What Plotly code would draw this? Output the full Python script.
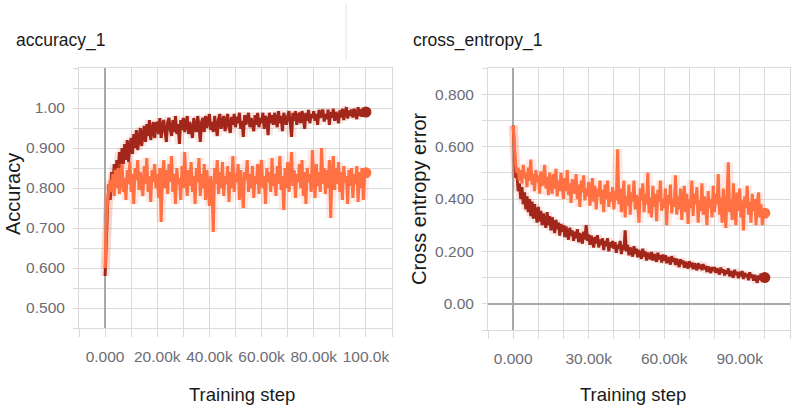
import plotly.graph_objects as go

# ---------------- data ----------------
steps = list(range(0, 100001, 500))

acc_train = [
    0.580, 0.700, 0.760, 0.810, 0.770, 0.840, 0.800, 0.860, 0.820, 0.870,
    0.840, 0.890, 0.850, 0.900, 0.860, 0.910, 0.870, 0.920, 0.865, 0.905,
    0.925, 0.885, 0.935, 0.900, 0.945, 0.895, 0.930, 0.950, 0.905, 0.940,
    0.955, 0.915, 0.960, 0.930, 0.970, 0.920, 0.950, 0.965, 0.925, 0.960,
    0.965, 0.935, 0.975, 0.925, 0.955, 0.970, 0.940, 0.915, 0.965, 0.975,
    0.945, 0.930, 0.970, 0.940, 0.980, 0.935, 0.960, 0.910, 0.970, 0.945,
    0.975, 0.940, 0.960, 0.980, 0.935, 0.965, 0.945, 0.925, 0.975, 0.950,
    0.940, 0.980, 0.955, 0.915, 0.965, 0.975, 0.940, 0.980, 0.950, 0.965,
    0.985, 0.945, 0.965, 0.940, 0.980, 0.955, 0.930, 0.972, 0.985, 0.948,
    0.962, 0.980, 0.942, 0.970, 0.985, 0.952, 0.938, 0.978, 0.958, 0.985,
    0.952, 0.978, 0.962, 0.988, 0.948, 0.968, 0.928, 0.982, 0.958, 0.975,
    0.988, 0.952, 0.975, 0.962, 0.942, 0.982, 0.958, 0.988, 0.952, 0.975,
    0.962, 0.988, 0.948, 0.980, 0.970, 0.932, 0.988, 0.962, 0.982, 0.958,
    0.988, 0.970, 0.952, 0.992, 0.962, 0.980, 0.942, 0.988, 0.970, 0.958,
    0.980, 0.992, 0.962, 0.928, 0.988, 0.968, 0.992, 0.958, 0.980, 0.988,
    0.962, 0.992, 0.978, 0.948, 0.988, 0.968, 0.995, 0.962, 0.985, 0.975,
    0.992, 0.968, 0.985, 0.958, 0.995, 0.975, 0.988, 0.996, 0.966, 0.985,
    0.972, 0.996, 0.958, 0.990, 0.976, 0.998, 0.968, 0.990, 0.980, 0.962,
    0.994, 0.976, 0.998, 0.970, 0.990, 1.002, 0.974, 0.994, 0.980, 0.996,
    0.976, 0.998, 0.986, 0.972, 1.002, 0.980, 0.996, 0.978, 1.000, 0.984,
    0.990]

acc_val = [
    0.600, 0.720, 0.770, 0.800, 0.820, 0.790, 0.835, 0.780, 0.845, 0.800,
    0.850, 0.785, 0.830, 0.860, 0.790, 0.825, 0.770, 0.845, 0.810, 0.865,
    0.790, 0.835, 0.760, 0.850, 0.820, 0.870, 0.795, 0.840, 0.805, 0.780,
    0.855, 0.810, 0.875, 0.790, 0.830, 0.765, 0.845, 0.815, 0.860, 0.800,
    0.835, 0.775, 0.850, 0.715, 0.830, 0.870, 0.800, 0.845, 0.785, 0.860,
    0.815, 0.880, 0.790, 0.835, 0.760, 0.850, 0.810, 0.825, 0.770, 0.855,
    0.800, 0.890, 0.820, 0.780, 0.845, 0.805, 0.865, 0.790, 0.830, 0.760,
    0.850, 0.815, 0.875, 0.780, 0.835, 0.800, 0.860, 0.770, 0.845, 0.810,
    0.755, 0.830, 0.795, 0.690, 0.850, 0.810, 0.870, 0.785, 0.840, 0.800,
    0.865, 0.780, 0.830, 0.810, 0.855, 0.765, 0.840, 0.800, 0.880, 0.790,
    0.835, 0.815, 0.860, 0.770, 0.845, 0.805, 0.750, 0.840, 0.820, 0.870,
    0.790, 0.835, 0.800, 0.855, 0.775, 0.830, 0.810, 0.860, 0.785, 0.845,
    0.870, 0.800, 0.830, 0.760, 0.850, 0.815, 0.840, 0.790, 0.875, 0.805,
    0.835, 0.780, 0.855, 0.810, 0.880, 0.795, 0.830, 0.745, 0.850, 0.800,
    0.865, 0.790, 0.830, 0.890, 0.805, 0.845, 0.775, 0.835, 0.815, 0.860,
    0.800, 0.870, 0.780, 0.840, 0.760, 0.850, 0.815, 0.835, 0.790, 0.895,
    0.820, 0.775, 0.860, 0.805, 0.840, 0.790, 0.900, 0.810, 0.850, 0.785,
    0.845, 0.800, 0.870, 0.725, 0.835, 0.880, 0.795, 0.850, 0.810, 0.865,
    0.790, 0.840, 0.770, 0.855, 0.815, 0.830, 0.760, 0.845, 0.805, 0.850,
    0.775, 0.835, 0.810, 0.855, 0.765, 0.840, 0.800, 0.850, 0.770, 0.830,
    0.838]

ce_train = [
    0.680, 0.540, 0.480, 0.500, 0.430, 0.460, 0.400, 0.445, 0.380, 0.425,
    0.360, 0.410, 0.350, 0.400, 0.335, 0.390, 0.325, 0.380, 0.340, 0.310,
    0.370, 0.315, 0.355, 0.300, 0.345, 0.320, 0.290, 0.350, 0.300, 0.335,
    0.280, 0.330, 0.295, 0.270, 0.320, 0.285, 0.310, 0.260, 0.305, 0.275,
    0.300, 0.255, 0.295, 0.265, 0.245, 0.290, 0.260, 0.280, 0.240, 0.275,
    0.250, 0.285, 0.235, 0.270, 0.250, 0.230, 0.275, 0.245, 0.300, 0.240,
    0.265, 0.225, 0.260, 0.240, 0.215, 0.255, 0.230, 0.262, 0.215, 0.245,
    0.225, 0.250, 0.205, 0.240, 0.220, 0.250, 0.200, 0.235, 0.215, 0.240,
    0.210, 0.235, 0.195, 0.225, 0.210, 0.240, 0.190, 0.225, 0.205, 0.280,
    0.200, 0.225, 0.185, 0.215, 0.200, 0.180, 0.220, 0.190, 0.210, 0.178,
    0.205, 0.185, 0.172, 0.210, 0.180, 0.200, 0.165, 0.195, 0.182, 0.170,
    0.198, 0.165, 0.190, 0.175, 0.160, 0.195, 0.170, 0.185, 0.158, 0.188,
    0.165, 0.185, 0.155, 0.178, 0.168, 0.150, 0.182, 0.160, 0.175, 0.148,
    0.172, 0.155, 0.140, 0.170, 0.152, 0.165, 0.138, 0.160, 0.148, 0.135,
    0.162, 0.140, 0.158, 0.132, 0.155, 0.142, 0.128, 0.155, 0.135, 0.150,
    0.128, 0.152, 0.132, 0.145, 0.122, 0.142, 0.128, 0.118, 0.140, 0.125,
    0.140, 0.118, 0.135, 0.122, 0.112, 0.138, 0.120, 0.132, 0.108, 0.128,
    0.115, 0.135, 0.105, 0.125, 0.112, 0.100, 0.130, 0.110, 0.122, 0.098,
    0.122, 0.105, 0.125, 0.095, 0.118, 0.102, 0.115, 0.090, 0.120, 0.100,
    0.112, 0.088, 0.110, 0.098, 0.080, 0.108, 0.092, 0.115, 0.085, 0.105,
    0.100]

ce_val = [
    0.680, 0.580, 0.530, 0.500, 0.520, 0.470, 0.510, 0.460, 0.530, 0.480,
    0.500, 0.445, 0.520, 0.470, 0.550, 0.455, 0.495, 0.430, 0.510, 0.465,
    0.490, 0.420, 0.505, 0.450, 0.475, 0.530, 0.440, 0.485, 0.415, 0.500,
    0.455, 0.420, 0.495, 0.440, 0.515, 0.410, 0.470, 0.430, 0.500, 0.445,
    0.400, 0.480, 0.430, 0.510, 0.415, 0.460, 0.385, 0.475, 0.440, 0.420,
    0.495, 0.400, 0.455, 0.370, 0.470, 0.425, 0.490, 0.395, 0.440, 0.410,
    0.465, 0.375, 0.430, 0.480, 0.390, 0.450, 0.360, 0.440, 0.410, 0.470,
    0.380, 0.435, 0.350, 0.455, 0.400, 0.470, 0.370, 0.425, 0.390, 0.445,
    0.360, 0.430, 0.395, 0.590, 0.380, 0.440, 0.350, 0.420, 0.470, 0.330,
    0.410, 0.375, 0.455, 0.340, 0.425, 0.390, 0.470, 0.360, 0.415, 0.380,
    0.310, 0.440, 0.395, 0.460, 0.350, 0.420, 0.380, 0.500, 0.345, 0.405,
    0.330, 0.450, 0.370, 0.420, 0.315, 0.435, 0.390, 0.470, 0.355, 0.400,
    0.365, 0.440, 0.300, 0.415, 0.380, 0.455, 0.345, 0.400, 0.370, 0.490,
    0.340, 0.410, 0.360, 0.440, 0.320, 0.395, 0.450, 0.350, 0.420, 0.305,
    0.400, 0.365, 0.470, 0.335, 0.420, 0.380, 0.445, 0.310, 0.395, 0.355,
    0.460, 0.340, 0.410, 0.375, 0.300, 0.430, 0.365, 0.400, 0.330, 0.450,
    0.350, 0.420, 0.380, 0.495, 0.340, 0.405, 0.310, 0.440, 0.365, 0.290,
    0.420, 0.540, 0.350, 0.400, 0.320, 0.460, 0.370, 0.300, 0.425, 0.355,
    0.440, 0.330, 0.395, 0.280, 0.410, 0.365, 0.450, 0.340, 0.390, 0.310,
    0.420, 0.355, 0.400, 0.300, 0.385, 0.425, 0.330, 0.380, 0.300, 0.360,
    0.346]

acc_x_ticks = [-10000, 0, 10000, 20000, 30000, 40000, 50000, 60000, 70000, 80000, 90000, 100000, 110000]
acc_x_text = ["", "0.000", "", "20.00k", "", "40.00k", "", "60.00k", "", "80.00k", "", "100.0k", ""]
acc_y_ticks = [0.45, 0.50, 0.55, 0.60, 0.65, 0.70, 0.75, 0.80, 0.85, 0.90, 0.95, 1.00, 1.05, 1.10]
acc_y_text = ["", "0.500", "", "0.600", "", "0.700", "", "0.800", "", "0.900", "", "1.00", "", ""]

ce_x_ticks = [-10000, 0, 10000, 20000, 30000, 40000, 50000, 60000, 70000, 80000, 90000, 100000, 110000]
ce_x_text = ["", "0.000", "", "", "30.00k", "", "", "60.00k", "", "", "90.00k", "", ""]
ce_y_ticks = [-0.1, 0.0, 0.1, 0.2, 0.3, 0.4, 0.5, 0.6, 0.7, 0.8, 0.9]
ce_y_text = ["", "0.00", "", "0.200", "", "0.400", "", "0.600", "", "0.800", ""]

# ---------------- style ----------------
DARK = "#a3261a"
ORANGE = "#ff7043"
HALO_DARK = "rgba(220,90,70,0.16)"
HALO_ORANGE = "rgba(255,125,90,0.18)"
GRID = "#dadada"
TICKFONT = dict(family="Liberation Sans", size=15.5, color="#6c6c76")

W, H = 800, 415

fig = go.Figure()


def add_series(x, y, color, halo, xa, ya):
    fig.add_trace(go.Scatter(x=x, y=y, mode="lines", line=dict(color=halo, width=9),
                             xaxis=xa, yaxis=ya, hoverinfo="skip", showlegend=False))
    fig.add_trace(go.Scatter(x=x, y=y, mode="lines", line=dict(color=color, width=3),
                             xaxis=xa, yaxis=ya, showlegend=False))
    fig.add_trace(go.Scatter(x=[x[-1]], y=[y[-1]], mode="markers",
                             marker=dict(color=color, size=11),
                             xaxis=xa, yaxis=ya, showlegend=False))


add_series(steps, acc_train, DARK, HALO_DARK, "x", "y")
add_series(steps, acc_val, ORANGE, HALO_ORANGE, "x", "y")
add_series(steps, ce_train, DARK, HALO_DARK, "x2", "y2")
add_series(steps, ce_val, ORANGE, HALO_ORANGE, "x2", "y2")


def ax(dom, rng, tv, tt, ticklen, zero, anchor):
    return dict(domain=dom, range=rng, tickmode="array", tickvals=tv, ticktext=tt,
                showgrid=True, gridcolor=GRID, gridwidth=1,
                showline=True, linecolor=GRID, linewidth=1, mirror=True,
                ticks="outside", ticklen=ticklen, tickcolor=GRID, tickwidth=1,
                tickfont=TICKFONT, zeroline=zero, zerolinecolor="#a8a8a8",
                zerolinewidth=1.6, anchor=anchor, fixedrange=True, automargin=False)


def px_dom_x(a, b):
    return [a / W, b / W]


def px_dom_y(top, bottom):
    return [1 - bottom / H, 1 - top / H]


fig.update_layout(
    width=W, height=H,
    margin=dict(l=0, r=0, t=0, b=0, autoexpand=False),
    paper_bgcolor="white", plot_bgcolor="white",
    xaxis=ax(px_dom_x(79, 392), [-10000, 110000], acc_x_ticks, acc_x_text, 8, True, "y"),
    yaxis=ax(px_dom_y(68, 328), [0.45, 1.10], acc_y_ticks, acc_y_text, 5, False, "x"),
    xaxis2=ax(px_dom_x(488, 790), [-10000, 110000], ce_x_ticks, ce_x_text, 8, True, "y2"),
    yaxis2=ax(px_dom_y(68, 330), [-0.1, 0.9], ce_y_ticks, ce_y_text, 5, True, "x2"),
    showlegend=False,
)
fig.layout.xaxis.ticklabelstandoff = 6
fig.layout.xaxis2.ticklabelstandoff = 6
fig.layout.yaxis.ticklabelstandoff = 5
fig.layout.yaxis2.ticklabelstandoff = 5


def ann(text, x, y, size, angle=0, xanchor="center", color="#1a1a1a"):
    fig.add_annotation(text=text, x=x / W, y=1 - y / H,
                       xref="paper", yref="paper",
                       showarrow=False, xanchor=xanchor, yanchor="middle",
                       textangle=angle,
                       font=dict(family="Liberation Sans", size=size, color=color))


ann("accuracy_1", 14, 41, 17.5, xanchor="left")
ann("cross_entropy_1", 411, 41, 17.5, xanchor="left")
ann("Accuracy", 13, 194, 20, angle=-90)
ann("Cross entropy error", 419, 199, 20, angle=-90)
ann("Training step", 242, 394, 18.5)
ann("Training step", 633, 394, 18.5)

fig.add_shape(type="line", xref="paper", yref="paper",
              x0=346 / W, x1=346 / W,
              y0=1 - 3 / H, y1=1 - 60 / H,
              line=dict(color="#e4e4e4", width=1))

# remove the browser's default 8px body margin so the figure sits at the page origin
fig.write_html("out.html",
               config={"displayModeBar": False},
               post_script="document.body.style.margin='0px';document.body.style.overflow='hidden';")
